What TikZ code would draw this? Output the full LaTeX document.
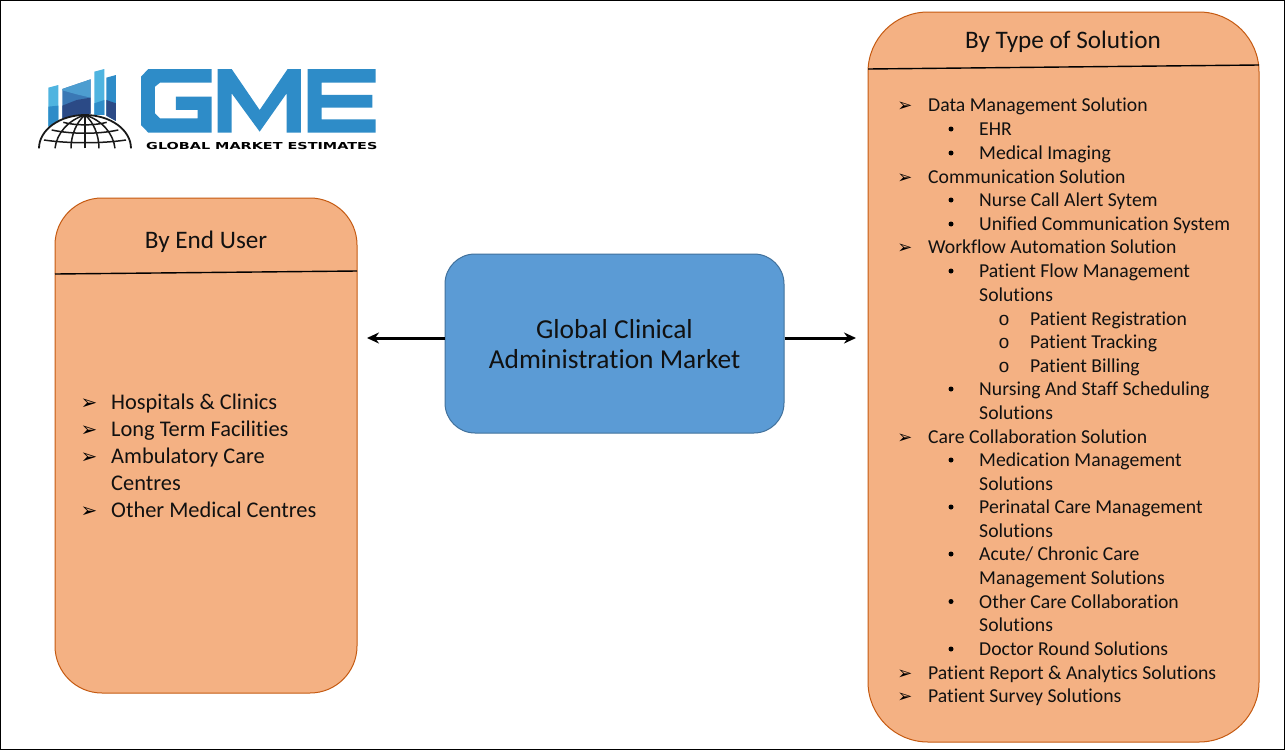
\documentclass[tikz,border=0pt]{standalone}
\usepackage{fontspec}
\setmainfont{Carlito}[Ligatures=NoCommon]
\newfontfamily\symfont{DejaVu Sans}
\newfontfamily\ringfont{Liberation Mono}
\newfontfamily\logofont{DejaVu Sans}[FakeStretch=1.5]
\definecolor{boxorange}{HTML}{F4B183}
\definecolor{orangeedge}{HTML}{C55A11}
\definecolor{boxblue}{HTML}{5B9BD5}
\definecolor{blueedge}{HTML}{41719C}
\definecolor{txt}{HTML}{111111}
\definecolor{gmeblue}{HTML}{2E8CC8}
\definecolor{gmelight}{HTML}{4FB4E0}
\definecolor{gmemid}{HTML}{3A78B5}
\definecolor{gmedark}{HTML}{2B4A86}
\usetikzlibrary{arrows.meta}
\tikzset{
  x=1pt,y=-1pt,
  panel/.style={draw=orangeedge,fill=boxorange,line width=1pt,inner sep=0pt},
  centerbox/.style={draw=blueedge,fill=boxblue,line width=1pt,inner sep=0pt},
  divider/.style={draw=black,line width=1.4pt},
  flow/.style={draw=black,line width=3pt,-{Stealth[length=12pt,width=11pt]}},
  heading/.style={font=\fontsize{25.2}{28}\selectfont,text=txt,anchor=base,inner sep=0pt},
  rt/.style={font=\fontsize{19.7}{22}\selectfont,text=txt,anchor=base west,inner sep=0pt},
  lf/.style={font=\fontsize{22.4}{25}\selectfont,text=txt,anchor=base west,inner sep=0pt},
  mk/.style={font=\symfont\fontsize{18}{20}\selectfont,text=black,anchor=base,inner sep=0pt},
  dot/.style={fill=black,draw=none,circle,minimum size=5pt,inner sep=0pt},
  ring/.style={font=\ringfont\fontsize{19}{22}\selectfont,text=txt,anchor=base,inner sep=0pt},
  globeline/.style={draw=black!90,line width=1.5pt},
}
\newcommand{\arrowrow}[3]{\node[mk] (m#3) at (905,#1+0.5) {➢};\node[rt] (t#3) at (928,#1+0.5) {#2};}
\newcommand{\dotrow}[3]{\node[dot] (m#3) at (951,#1-6) {};\node[rt] (t#3) at (979,#1+0.5) {#2};}
\newcommand{\plainrow}[3]{\node[rt] (t#3) at (979,#1+0.5) {#2};}
\newcommand{\ringrow}[3]{\node[ring] (m#3) at (1004,#1+0.5) {o};\node[rt] (t#3) at (1030,#1+0.5) {#2};}
\newcommand{\leftrow}[3]{\node[mk,font=\symfont\fontsize{20}{22}\selectfont] (lm#3) at (89,#1+1) {➢};\node[lf] (lt#3) at (111,#1+1) {#2};}
\begin{document}
\begin{tikzpicture}
\useasboundingbox (0,0) rectangle (1285,750);
\fill[white] (0,0) rectangle (1285,750);
\draw[black,line width=1.2pt] (0.6,0.6) rectangle (1284.4,749.4);

% logo mark
\begin{scope}[shift={(35,65)},scale=0.3333]
\fill[gmelight] (40,68) -- (70,60) -- (70,165) -- (40,185) -- cycle;
\fill[gmeblue] (40,125) -- (70,122) -- (70,165) -- (40,185) -- cycle;
\fill[gmemid] (82,72) -- (167,43) -- (167,145) -- (82,160) -- cycle;
\fill[gmeblue!85!white] (82,72) -- (167,43) -- (167,98) -- (125,88) -- (82,76) -- cycle;
\fill[gmedark] (82,122) -- (125,105) -- (167,98) -- (167,147) -- (125,150) -- (82,162) -- cycle;
\fill[gmelight] (178,20) -- (208,12) -- (208,150) -- (178,150) -- cycle;
\fill[gmeblue] (178,115) -- (208,105) -- (208,150) -- (178,150) -- cycle;
\fill[gmeblue] (214,38) -- (243,30) -- (243,168) -- (214,152) -- cycle;
\fill[gmedark] (214,105) -- (243,115) -- (243,168) -- (214,152) -- cycle;
\fill[white] (12,250) arc[start angle=180,end angle=360,x radius=138,y radius=100] -- cycle;
\draw[globeline,line width=1.8pt] (12,250) arc[start angle=180,end angle=360,x radius=138,y radius=100];
\draw[globeline] (60,250) .. controls (65,205) and (100,165) .. (150,150);
\draw[globeline] (240,250) .. controls (235,205) and (200,165) .. (150,150);
\draw[globeline] (108,250) .. controls (108,210) and (125,170) .. (150,150);
\draw[globeline] (192,250) .. controls (192,210) and (175,170) .. (150,150);
\draw[globeline] (150,250) -- (150,150);
\draw[globeline] (85,172) .. controls (120,182) and (180,182) .. (215,172);
\draw[globeline] (50,195) .. controls (110,208) and (190,208) .. (250,195);
\draw[globeline] (27,225) .. controls (100,236) and (200,236) .. (273,225);
\end{scope}
% logo letters
\begin{scope}[shift={(135,60)},scale=0.3333]
\fill[gmeblue] (40,27) -- (230,27) -- (230,68) -- (75,68) -- (60,80) -- (60,160) -- (75,175) -- (188,175) -- (188,150) -- (123,150) -- (123,110) -- (230,110) -- (230,218) -- (40,218) -- (18,195) -- (18,50) -- cycle;
\fill[gmeblue] (248,27) -- (290,27) -- (374,150) -- (458,27) -- (498,27) -- (498,218) -- (455,218) -- (455,100) -- (374,215) -- (290,100) -- (290,218) -- (248,218) -- cycle;
\fill[gmeblue] (518,27) -- (722,27) -- (722,68) -- (560,68) -- (560,105) -- (712,105) -- (712,143) -- (560,143) -- (560,178) -- (722,178) -- (722,218) -- (518,218) -- cycle;
\end{scope}
\node[font=\logofont\bfseries\fontsize{9.6}{11}\selectfont,text=black,anchor=base west,inner sep=0pt] (logotext) at (146,149) {GLOBAL MARKET ESTIMATES};

% panels
\node[panel,rounded corners=47pt,minimum width=302pt,minimum height=495pt] (leftpanel) at (206,445.5) {};
\node[panel,rounded corners=60pt,minimum width=391pt,minimum height=730pt] (rightpanel) at (1063.5,377) {};
\node[centerbox,rounded corners=30pt,minimum width=339pt,minimum height=179pt] (center) at (614.5,343.5) {};
\coordinate (dl1) at (55,274);
\coordinate (dl2) at (357,271);
\coordinate (dr1) at (868,69);
\coordinate (dr2) at (1259,65);
\draw[divider] (dl1) -- (dl2);
\draw[divider] (dr1) -- (dr2);

% headings
\node[heading] (h1) at (206,248) {By End User};
\node[heading] (h2) at (1063,48) {By Type of Solution};
\node[font=\fontsize{27.4}{30}\selectfont,text=txt,anchor=base,inner sep=0pt] (c1) at (614.5,338) {Global Clinical};
\node[font=\fontsize{27.4}{30}\selectfont,text=txt,anchor=base,inner sep=0pt] (c2) at (614.5,368) {Administration Market};

% arrows
\coordinate (leftend) at (367,338);
\coordinate (rightend) at (856,338);
\draw[flow] (center.west |- leftend) -- (leftend);
\draw[flow] (center.east |- rightend) -- (rightend);

% left list
\leftrow{408}{Hospitals \& Clinics}{1}
\leftrow{435}{Long Term Facilities}{2}
\leftrow{462}{Ambulatory Care}{3}
\node[lf] (lt3b) at (111,490) {Centres};
\leftrow{516}{Other Medical Centres}{4}

% right list
\arrowrow{111}{Data Management Solution}{1}
\dotrow{135}{EHR}{2}
\dotrow{159}{Medical Imaging}{3}
\arrowrow{182.5}{Communication Solution}{4}
\dotrow{206}{Nurse Call Alert Sytem}{5}
\dotrow{230}{Unified Communication System}{6}
\arrowrow{253}{Workflow Automation Solution}{7}
\dotrow{277}{Patient Flow Management}{8}
\plainrow{301}{Solutions}{9}
\ringrow{324.5}{Patient Registration}{10}
\ringrow{348}{Patient Tracking}{11}
\ringrow{372}{Patient Billing}{12}
\dotrow{395}{Nursing And Staff Scheduling}{13}
\plainrow{419}{Solutions}{14}
\arrowrow{442.5}{Care Collaboration Solution}{15}
\dotrow{466}{Medication Management}{16}
\plainrow{490}{Solutions}{17}
\dotrow{513}{Perinatal Care Management}{18}
\plainrow{537}{Solutions}{19}
\dotrow{560}{Acute/ Chronic Care}{20}
\plainrow{584}{Management Solutions}{21}
\dotrow{607.5}{Other Care Collaboration}{22}
\plainrow{631}{Solutions}{23}
\dotrow{655}{Doctor Round Solutions}{24}
\arrowrow{678.5}{Patient Report \& Analytics Solutions}{25}
\arrowrow{702}{Patient Survey Solutions}{26}
\end{tikzpicture}
\end{document}
